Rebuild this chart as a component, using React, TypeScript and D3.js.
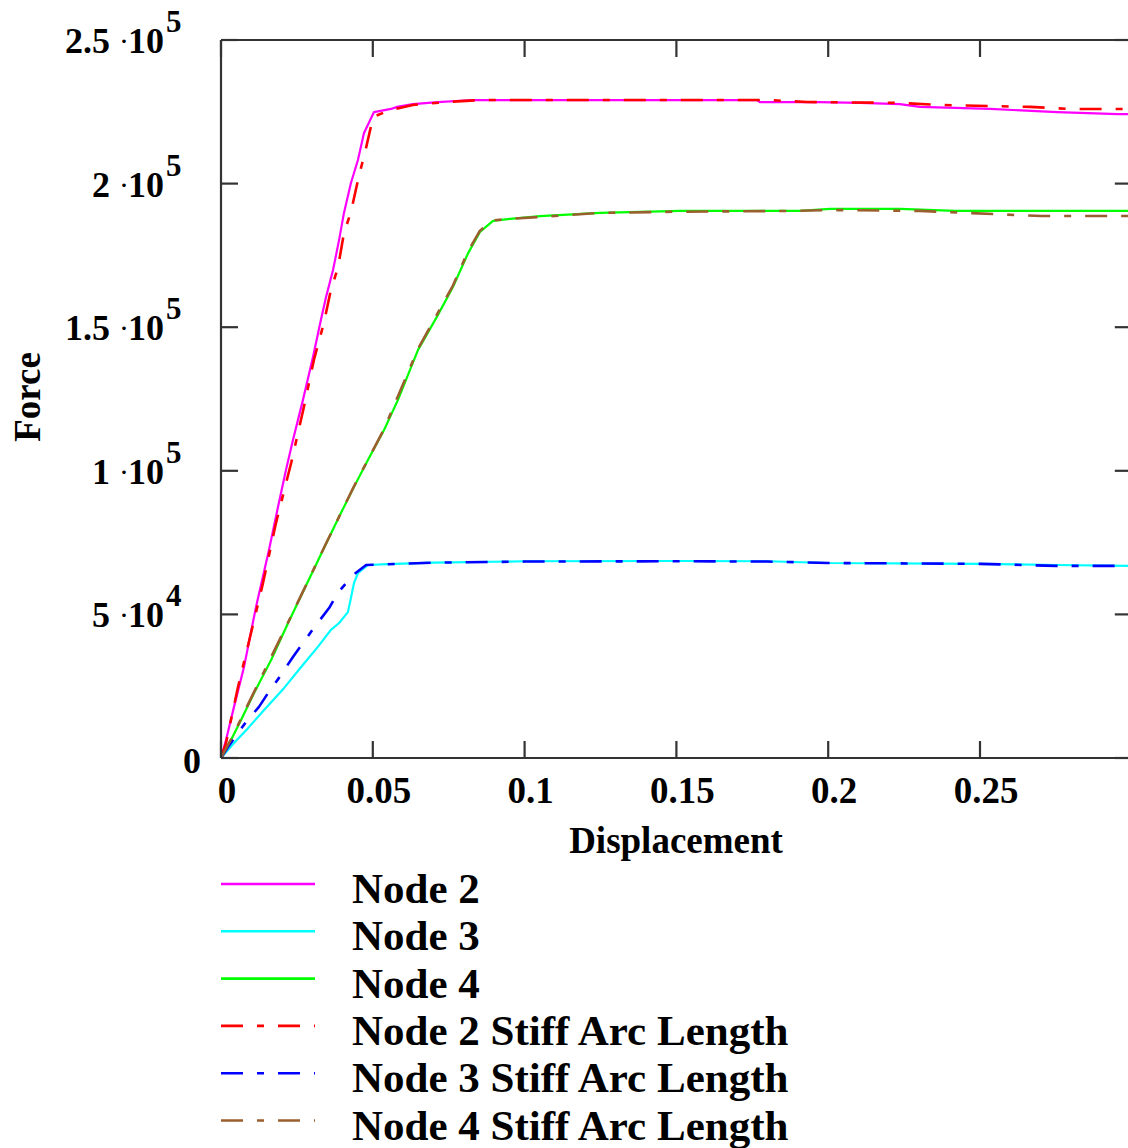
import React from "react";
import * as d3 from "d3";

// Force–displacement results: [displacement, force]
const node2: [number, number][] = [
  [0, 0], [0.00165, 6270], [0.00428, 17800], [0.00758, 31700], [0.01153, 52600],
  [0.0158, 72400], [0.01877, 87400], [0.0214, 100300], [0.0237, 110700], [0.027, 124700],
  [0.0303, 139600], [0.0329, 152500], [0.0346, 160500], [0.0369, 169900], [0.0389, 180400],
  [0.0405, 189800], [0.0428, 200200], [0.0451, 208200], [0.0471, 217600], [0.0504, 224900],
  [0.056, 226000], [0.058, 226700], [0.0632, 227700], [0.0715, 228400], [0.083, 229100],
  [0.1765, 229100], [0.1775, 228400], [0.197, 228400], [0.2105, 228100], [0.2236, 227700],
  [0.2302, 226700], [0.2533, 226000], [0.2754, 224900], [0.2955, 224200], [0.3, 224200],
];

const node3: [number, number][] = [
  [0, 0], [0.00428, 5200], [0.0089, 10400], [0.0142, 16700], [0.0208, 24400],
  [0.0264, 31700], [0.0319, 38700], [0.0362, 44600], [0.0389, 47000], [0.0418, 50800],
  [0.0428, 55700], [0.0438, 60900], [0.0451, 64400], [0.0484, 67200], [0.055, 67500],
  [0.07, 68000], [0.1, 68500], [0.15, 68600], [0.18, 68500], [0.2, 67900],
  [0.25, 67600], [0.275, 67200], [0.3, 66900],
];

const node4: [number, number][] = [
  [0, 0], [0.0033, 6300], [0.0066, 13200], [0.0109, 22600], [0.0165, 34100],
  [0.0221, 47000], [0.0273, 58500], [0.0352, 75900], [0.0395, 85300], [0.0438, 94400],
  [0.0484, 103800], [0.0537, 114200], [0.0583, 124700], [0.0649, 142100], [0.0711, 153600],
  [0.0764, 164000], [0.0814, 175800], [0.0853, 183200], [0.0896, 187000], [0.0952, 187700],
  [0.1051, 188700], [0.1248, 189800], [0.1512, 190500], [0.1907, 190500], [0.2006, 191200],
  [0.2236, 191200], [0.2418, 190500], [0.3, 190500],
];

const node2Stiff: [number, number][] = [
  [0, 0], [0.00165, 5200], [0.0056, 24700], [0.00988, 43500], [0.01383, 60900],
  [0.0181, 81800], [0.0231, 102700], [0.0273, 122200], [0.0306, 138600], [0.0339, 151500],
  [0.0362, 163000], [0.0385, 170600], [0.0405, 182800], [0.0428, 190100], [0.0455, 203000],
  [0.0474, 210700], [0.0501, 223200], [0.0557, 225600], [0.0632, 227400], [0.0744, 228400],
  [0.0853, 229100], [0.1802, 229100], [0.193, 228400], [0.2236, 228100], [0.2368, 227400],
  [0.2533, 227000], [0.2665, 226700], [0.2796, 226000], [0.3, 226000],
];

const node3Stiff: [number, number][] = [
  [0, 0], [0.0023, 3800], [0.0082, 12500], [0.0125, 17800], [0.0155, 22600],
  [0.0191, 27900], [0.0237, 35200], [0.0306, 45300], [0.0356, 52200], [0.0385, 57500],
  [0.0435, 63700], [0.0478, 67200], [0.07, 68000], [0.1, 68400], [0.15, 68500],
  [0.18, 68400], [0.2, 67900], [0.25, 67600], [0.275, 66900], [0.3, 66900],
];

const node4Stiff: [number, number][] = [
  [0, 0], [0.0033, 6500], [0.0109, 23000], [0.0221, 47200], [0.0352, 76000],
  [0.0438, 94600], [0.0537, 114500], [0.0649, 142500], [0.0764, 164500], [0.0814, 176500],
  [0.0853, 183600], [0.0896, 187200], [0.0952, 187700], [0.1051, 188400], [0.125, 189800],
  [0.15, 190200], [0.19, 190500], [0.2, 190800], [0.23, 190500], [0.245, 189800],
  [0.27, 188700], [0.3, 188700],
];

const xTicks = [0, 0.05, 0.1, 0.15, 0.2, 0.25];
const xTickLabels = ["0", "0.05", "0.1", "0.15", "0.2", "0.25"];
const yTicks = [0, 50000, 100000, 150000, 200000, 250000];
// [mantissa, exponent] for each y tick; the zero tick is a plain "0"
const yTickLabels: [string, string][] = [
  ["0", ""], ["5", "4"], ["1", "5"], ["1.5", "5"], ["2", "5"], ["2.5", "5"],
];

const seriesNames = [
  "Node 2", "Node 3", "Node 4",
  "Node 2 Stiff Arc Length", "Node 3 Stiff Arc Length", "Node 4 Stiff Arc Length",
];
const seriesData = [node2, node3, node4, node2Stiff, node3Stiff, node4Stiff];
const seriesColors = ["#ff00ff", "#00ffff", "#00ff00", "#ff0000", "#0000ff", "#9b5f2f"];
const seriesDashed = [false, false, false, true, true, true];

const W = 1128;
const H = 1148;
const FONT = "'Liberation Serif', 'Times New Roman', serif";
const AXIS = "#333333";
const DASH = "22,14,7,14";

export default function App() {
  const left = 221;
  const right = 1131.8;
  const top = 40;
  const bottom = 758;
  const x = d3.scaleLinear().domain([0, 0.3]).range([left, right]);
  const y = d3.scaleLinear().domain([0, 250000]).range([bottom, top]);
  const line = d3
    .line<[number, number]>()
    .x((d) => x(d[0]))
    .y((d) => y(d[1]));
  const tick = 17;

  return (
    <svg
      width={W}
      height={H}
      style={{ position: "absolute", left: 0, top: 0, background: "#fff", overflow: "hidden" }}
      fontFamily={FONT}
      fontWeight="bold"
    >
      <rect x={0} y={0} width={W} height={H} fill="#fff" />
      <defs>
        <clipPath id="plot-area">
          <rect x={left} y={top - 5} width={right - left} height={bottom - top + 5} />
        </clipPath>
      </defs>

      {/* series: solid results first, stiff arc length runs on top */}
      <g clipPath="url(#plot-area)" fill="none">
        {seriesData.map((d, i) => (
          <path
            key={seriesNames[i]}
            d={line(d) ?? ""}
            stroke={seriesColors[i]}
            strokeWidth={seriesDashed[i] ? 2.6 : 2.2}
            strokeDasharray={seriesDashed[i] ? DASH : undefined}
            strokeLinejoin="round"
          />
        ))}
      </g>

      {/* frame */}
      <g stroke={AXIS} strokeWidth={2.2} fill="none">
        <line x1={left} y1={top} x2={right} y2={top} />
        <line x1={left} y1={bottom} x2={right} y2={bottom} />
        <line x1={left} y1={top} x2={left} y2={bottom} />
        <line x1={right} y1={top} x2={right} y2={bottom} />
        {xTicks.map((t) => (
          <g key={"xt" + t}>
            <line x1={x(t)} x2={x(t)} y1={bottom} y2={bottom - tick} />
            <line x1={x(t)} x2={x(t)} y1={top} y2={top + tick} />
          </g>
        ))}
        {yTicks.map((t) => (
          <g key={"yt" + t}>
            <line x1={left} x2={left + tick} y1={y(t)} y2={y(t)} />
            <line x1={right} x2={right - tick} y1={y(t)} y2={y(t)} />
          </g>
        ))}
      </g>

      {/* x tick labels */}
      <g fontSize={37} textAnchor="middle" fill="#000">
        {xTicks.map((t, i) => (
          <text key={"xl" + t} x={x(t) + 6} y={803}>
            {xTickLabels[i]}
          </text>
        ))}
      </g>

      {/* y tick labels */}
      <g fill="#000">
        {yTicks.map((t, i) => {
          const [m, e] = yTickLabels[i];
          const yy = y(t) + 13;
          if (!e) {
            return (
              <text key={"yl" + t} x={201} y={yy + 2} fontSize={36} textAnchor="end">
                {m}
              </text>
            );
          }
          return (
            <g key={"yl" + t}>
              <text x={110} y={yy} fontSize={36} textAnchor="end">
                {m}
              </text>
              <text x={124} y={yy - 2} fontSize={30} textAnchor="middle" fontWeight="normal">
                ·
              </text>
              <text x={128} y={yy} fontSize={36}>
                10
              </text>
              <text x={166} y={yy - 21} fontSize={31}>
                {e}
              </text>
            </g>
          );
        })}
      </g>

      {/* axis titles */}
      <text x={676} y={853} fontSize={37} textAnchor="middle" fill="#000">
        Displacement
      </text>
      <text
        transform={`translate(40, 397) rotate(-90)`}
        fontSize={37}
        textAnchor="middle"
        fill="#000"
      >
        Force
      </text>

      {/* legend */}
      <g>
        {seriesNames.map((name, i) => {
          const ly = 884 + i * 47.3;
          return (
            <g key={"lg" + name}>
              <line
                x1={221}
                x2={315}
                y1={ly}
                y2={ly}
                stroke={seriesColors[i]}
                strokeWidth={2.6}
                strokeDasharray={seriesDashed[i] ? DASH : undefined}
              />
              <text x={352} y={ly + 19} fontSize={43} fill="#000">
                {name}
              </text>
            </g>
          );
        })}
      </g>
    </svg>
  );
}
